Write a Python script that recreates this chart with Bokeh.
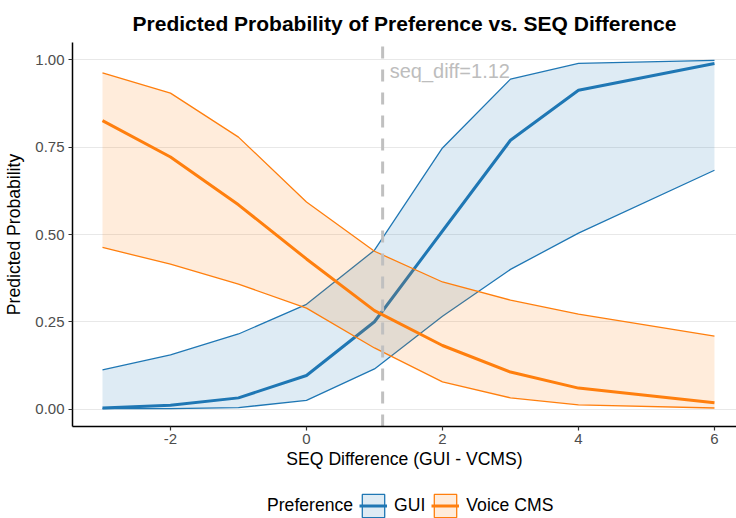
from bokeh.plotting import figure
from bokeh.layouts import column
from bokeh.models import (ColumnDataSource, Range1d, FixedTicker, Legend, LegendItem, Label)
from bokeh.embed import file_html
from bokeh.resources import INLINE

# ---- data ----
seq_diff = [-3, -2, -1, 0, 1, 2, 3, 4, 6]
gui_mean = [0.003, 0.011, 0.032, 0.096, 0.250, 0.510, 0.770, 0.913, 0.990]
gui_lower = [0.001, 0.001, 0.004, 0.025, 0.115, 0.266, 0.400, 0.504, 0.684]
gui_upper = [0.112, 0.155, 0.215, 0.300, 0.455, 0.748, 0.945, 0.990, 0.999]
voice_mean = [0.826, 0.722, 0.585, 0.430, 0.282, 0.182, 0.106, 0.060, 0.018]
voice_lower = [0.463, 0.415, 0.358, 0.289, 0.175, 0.078, 0.032, 0.012, 0.003]
voice_upper = [0.963, 0.905, 0.779, 0.593, 0.452, 0.364, 0.312, 0.272, 0.209]
threshold = [1.12]
x_ticks = [-2, 0, 2, 4, 6]
y_ticks = [0.0, 0.25, 0.5, 0.75, 1.0]
groups = ["GUI", "Voice CMS"]
colors = ["#1f77b4", "#ff7f0e"]

FONT = "Liberation Sans"

p = figure(width=736, height=474, output_backend="svg", toolbar_location=None,
           x_range=Range1d(-3.441, 6.324), y_range=Range1d(-0.05, 1.05),
           min_border_left=72, min_border_right=0, min_border_top=42,
           min_border_bottom=48, background_fill_color="white",
           border_fill_color="white", outline_line_color=None)

p.title.text = "Predicted Probability of Preference vs. SEQ Difference"
p.title.align = "center"
p.title.text_font = FONT
p.title.text_font_size = "21px"
p.title.text_font_style = "bold"
p.title.text_color = "black"
p.title.standoff = 16

p.xgrid.visible = False
p.ygrid.grid_line_color = "#e8e8e8"
p.ygrid.grid_line_width = 1
p.ygrid.ticker = FixedTicker(ticks=y_ticks)

p.xaxis.ticker = FixedTicker(ticks=x_ticks)
p.yaxis.ticker = FixedTicker(ticks=y_ticks)
p.xaxis.major_label_overrides = {t: str(t) for t in x_ticks}
p.yaxis.major_label_overrides = {t: f"{t:.2f}" for t in y_ticks}
p.xaxis.axis_label = "SEQ Difference (GUI - VCMS)"
p.yaxis.axis_label = "Predicted Probability"
for ax in (p.xaxis, p.yaxis):
    ax.axis_line_color = "black"
    ax.axis_line_width = 1.5
    ax.major_tick_line_color = "#333333"
    ax.major_tick_line_width = 1.2
    ax.major_tick_in = 0
    ax.major_tick_out = 4
    ax.minor_tick_line_color = None
    ax.major_label_text_font = FONT
    ax.major_label_text_font_size = "15px"
    ax.major_label_text_color = "#4d4d4d"
    ax.axis_label_text_font = FONT
    ax.axis_label_text_font_size = "17.6px"
    ax.axis_label_text_font_style = "normal"
    ax.axis_label_text_color = "black"
p.xaxis.major_label_standoff = 3
p.yaxis.major_label_standoff = 4
p.xaxis.axis_label_standoff = 2
p.yaxis.axis_label_standoff = 8

series = [
    (gui_mean, gui_lower, gui_upper),
    (voice_mean, voice_lower, voice_upper),
]

for name, color, (m, lo, hi) in zip(groups, colors, series):
    src = ColumnDataSource(dict(x=seq_diff, mean=m, lower=lo, upper=hi))
    p.varea(x="x", y1="lower", y2="upper", source=src, fill_color=color, fill_alpha=0.15)
    p.line(x="x", y="upper", source=src, line_color=color, line_width=1.3)
    p.line(x="x", y="lower", source=src, line_color=color, line_width=1.3)
    p.line(x="x", y="mean", source=src, line_color=color, line_width=3)

# threshold line
vsrc = ColumnDataSource(dict(x=threshold, y0=[-0.05], y1=[1.05]))
p.segment(x0="x", y0="y0", x1="x", y1="y1", source=vsrc, line_color="#c0c0c0",
          line_width=3, line_dash="12 11")
p.add_layout(Label(x=threshold[0], y=1.0, x_offset=7, text=f"seq_diff={threshold[0]:.2f}",
                   text_font=FONT, text_font_size="20px", text_color="#bdbdbd",
                   text_baseline="top", text_align="left"))

# ---- legend strip (separate small figure below the chart) ----
lf = figure(width=736, height=46, output_backend="svg", toolbar_location=None,
            x_range=Range1d(0, 1), y_range=Range1d(0, 1), title=None,
            x_axis_location=None, y_axis_location=None, min_border=0,
            outline_line_color=None, background_fill_color="white",
            border_fill_color="white")
lf.grid.visible = False

# legend-only renderers: one point each, placed outside the strip's visible range
hidden = dict(l=[-11], r=[-10], b=[-11], t=[-10])

# first item carries only the legend title text "Preference" (invisible glyph)
t_src = ColumnDataSource(dict(hidden))
t_r = lf.quad(left="l", right="r", bottom="b", top="t", source=t_src,
              fill_alpha=0, line_alpha=0)
legend_items = [LegendItem(label="Preference", renderers=[t_r])]
for name, color in zip(groups, colors):
    k_src = ColumnDataSource(dict(hidden))
    k_r = lf.quad(left="l", right="r", bottom="b", top="t", source=k_src,
                  fill_color=color, fill_alpha=0.15, line_color=color, line_width=1.3)
    l_src = ColumnDataSource(dict(x=[-11, -10], y=[-10, -10]))
    l_r = lf.line(x="x", y="y", source=l_src, line_color=color, line_width=3)
    legend_items.append(LegendItem(label=name, renderers=[k_r, l_r]))

legend = Legend(items=legend_items, location=(160, 0), orientation="horizontal",
                glyph_width=28, glyph_height=29, label_standoff=7, spacing=6,
                padding=0, margin=0, border_line_color=None, background_fill_alpha=0,
                label_text_font=FONT, label_text_font_size="17.6px",
                label_text_color="black")
lf.add_layout(legend, "center")

layout = column(p, lf, spacing=0)
open("out.html", "w").write(file_html(layout, INLINE))
